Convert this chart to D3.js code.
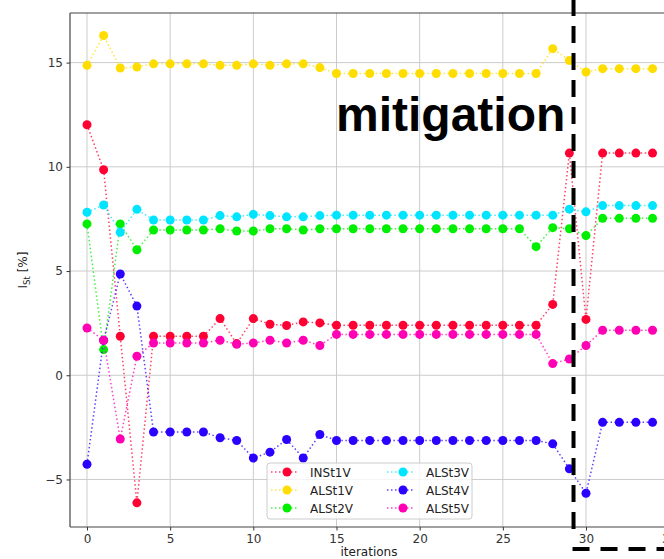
<!DOCTYPE html>
<html><head><meta charset="utf-8">
<script src="https://cdn.jsdelivr.net/npm/d3@7"></script>
<style>body{margin:0;background:#fff}svg{display:block}</style>
</head><body><svg id="c" width="664" height="559"></svg>
<script>
const iterations = [0,1,2,3,4,5,6,7,8,9,10,11,12,13,14,15,16,17,18,19,20,21,22,23,24,25,26,27,28,29,30,31,32,33,34];
const INSt1V = [12.02,9.86,1.87,-6.12,1.87,1.87,1.87,1.87,2.72,1.52,2.72,2.45,2.39,2.56,2.51,
  2.4,2.4,2.4,2.4,2.4,2.4,2.4,2.4,2.4,2.4,2.4,2.4,2.4,3.4,10.66,2.68,10.66,10.66,10.66,10.66];
const ALSt1V = [14.87,16.3,14.74,14.79,14.94,14.94,14.94,14.94,14.87,14.87,14.94,14.87,14.94,14.94,14.76,
  14.48,14.48,14.48,14.48,14.48,14.48,14.48,14.48,14.48,14.48,14.48,14.48,14.48,15.67,15.1,14.55,14.71,14.71,14.71,14.71];
const ALSt2V = [7.26,1.23,7.26,6.02,6.97,6.97,6.97,6.97,7.03,6.92,6.92,7.03,7.03,6.97,7.03,
  7.03,7.03,7.03,7.03,7.03,7.03,7.03,7.03,7.03,7.03,7.03,7.03,6.17,7.08,7.03,6.7,7.53,7.53,7.53,7.53];
const ALSt3V = [7.82,8.17,6.86,7.96,7.45,7.45,7.45,7.45,7.66,7.6,7.72,7.66,7.6,7.6,7.66,
  7.68,7.68,7.68,7.68,7.68,7.68,7.68,7.68,7.68,7.68,7.68,7.68,7.68,7.68,7.97,7.84,8.14,8.14,8.14,8.14];
const ALSt4V = [-4.27,1.68,4.86,3.32,-2.72,-2.72,-2.72,-2.72,-3.0,-3.13,-3.97,-3.69,-3.08,-3.97,-2.84,
  -3.13,-3.13,-3.13,-3.13,-3.13,-3.13,-3.13,-3.13,-3.13,-3.13,-3.13,-3.13,-3.13,-3.29,-4.49,-5.66,-2.26,-2.26,-2.26,-2.26];
const ALSt5V = [2.27,1.68,-3.06,0.91,1.55,1.55,1.55,1.55,1.68,1.49,1.55,1.68,1.55,1.68,1.43,
  1.96,1.96,1.96,1.96,1.96,1.96,1.96,1.96,1.96,1.96,1.96,1.96,1.96,0.56,0.78,1.43,2.16,2.16,2.16,2.16];
const seriesNames = ["INSt1V","ALSt1V","ALSt2V","ALSt3V","ALSt4V","ALSt5V"];
const seriesColors = ["#ff0033","#ffdd00","#00ee00","#00e5ff","#2a00ff","#ff00b4"];
const xTicks = [0,5,10,15,20,25,30,35];
const yTicks = [-5,0,5,10,15];
const xLabel = "iterations";
const annotation = "mitigation";
const annotationX = 29.25;

const series = [INSt1V,ALSt1V,ALSt2V,ALSt3V,ALSt4V,ALSt5V].map((v,i)=>({name:seriesNames[i],color:seriesColors[i],values:v}));

const svg = d3.select("#c");
const L=70, T=13, R=668, B=527;
const x = d3.scaleLinear().domain([-1.022,34.93]).range([L,R]);
const y = d3.scaleLinear().domain([-7.28,17.38]).range([B,T]);

const defs = svg.append("defs");
defs.append("clipPath").attr("id","clip").append("rect").attr("x",L).attr("y",T).attr("width",R-L).attr("height",B-T);

// grid
const grid = svg.append("g");
grid.selectAll(".gx").data(xTicks).join("line").attr("x1",d=>x(d)).attr("x2",d=>x(d)).attr("y1",T).attr("y2",B)
  .attr("stroke","#cccccc").attr("stroke-width",1);
grid.selectAll(".gy").data(yTicks).join("line").attr("y1",d=>y(d)).attr("y2",d=>y(d)).attr("x1",L).attr("x2",R)
  .attr("stroke","#cccccc").attr("stroke-width",1);

// axes
const fmt = d3.format("d");
const xAxis = svg.append("g").attr("transform",`translate(0,${B})`)
  .call(d3.axisBottom(x).tickValues(xTicks).tickSize(3.5).tickPadding(3.5).tickFormat(fmt));
const yAxis = svg.append("g").attr("transform",`translate(${L},0)`)
  .call(d3.axisLeft(y).tickValues(yTicks).tickSize(3.5).tickPadding(3.5).tickFormat(fmt));
[xAxis,yAxis].forEach(a=>{
  a.select(".domain").remove();
  a.selectAll(".tick line").attr("stroke","#333");
  a.selectAll(".tick text").attr("fill","#333").style("font-family","DejaVu Sans").style("font-size","12px");
});
// spines
svg.append("line").attr("x1",L).attr("x2",L).attr("y1",T).attr("y2",B).attr("stroke","#444").attr("stroke-width",1.2);
svg.append("line").attr("x1",L).attr("x2",R).attr("y1",B).attr("y2",B).attr("stroke","#444").attr("stroke-width",1.2);
svg.append("line").attr("x1",L).attr("x2",R).attr("y1",T).attr("y2",T).attr("stroke","#444").attr("stroke-width",1.2);

// series
const plot = svg.append("g").attr("clip-path","url(#clip)");
const line = d3.line().x((d,i)=>x(iterations[i])).y(d=>y(d));
series.forEach(s=>{
  const g = plot.append("g");
  g.append("path").attr("d",line(s.values)).attr("fill","none").attr("stroke",s.color)
    .attr("stroke-width",1.5).attr("stroke-dasharray","1.5,2.5").attr("opacity",0.75);
  g.selectAll("circle").data(s.values).join("circle").attr("cx",(d,i)=>x(iterations[i])).attr("cy",d=>y(d))
    .attr("r",4.5).attr("fill",s.color);
});

// labels
svg.append("text").attr("x",(L+R)/2).attr("y",556).attr("text-anchor","middle")
  .style("font-family","DejaVu Sans").style("font-size","12px").attr("fill","#222").text(xLabel);
const yl = svg.append("text").attr("transform",`translate(27,${(T+B)/2}) rotate(-90)`).attr("text-anchor","middle")
  .style("font-family","DejaVu Sans").style("font-size","12px").attr("fill","#222");
yl.append("tspan").text("I");
yl.append("tspan").attr("dy",3).style("font-size","8.5px").text("St");
yl.append("tspan").attr("dy",-3).text(" [%]");

// legend
const lg = svg.append("g").attr("transform","translate(267,463)");
lg.append("rect").attr("width",205).attr("height",56).attr("rx",3).attr("fill","#fff").attr("fill-opacity",0.8)
  .attr("stroke","#cccccc");
series.forEach((s,i)=>{
  const col = Math.floor(i/3), row = i%3;
  const gx = col===0 ? 4 : 120, gy = 9 + row*18;
  const e = lg.append("g").attr("transform",`translate(${gx},${gy})`);
  e.append("line").attr("x1",0).attr("x2",28).attr("stroke",s.color).attr("stroke-width",1.5)
    .attr("stroke-dasharray","1.5,2.5").attr("opacity",0.75);
  e.append("circle").attr("cx",16).attr("r",4.5).attr("fill",s.color);
  e.append("text").attr("x",39).attr("y",4.5).style("font-family","DejaVu Sans").style("font-size","12px")
    .attr("fill","#222").text(s.name);
});

// annotation
const ax = x(annotationX);
svg.append("line").attr("x1",ax).attr("x2",ax).attr("y1",-1).attr("y2",538).attr("stroke","#000")
  .attr("stroke-width",4).attr("stroke-dasharray","17,10");
svg.append("line").attr("x1",ax-1).attr("x2",700).attr("y1",549).attr("y2",549).attr("stroke","#000")
  .attr("stroke-width",4).attr("stroke-dasharray","17,11");
svg.append("text").attr("x",336).attr("y",131).style("font-family","Liberation Sans, Arial, sans-serif")
  .style("font-weight","bold").style("font-size","48px").attr("fill","#000").text(annotation);
</script></body></html>
